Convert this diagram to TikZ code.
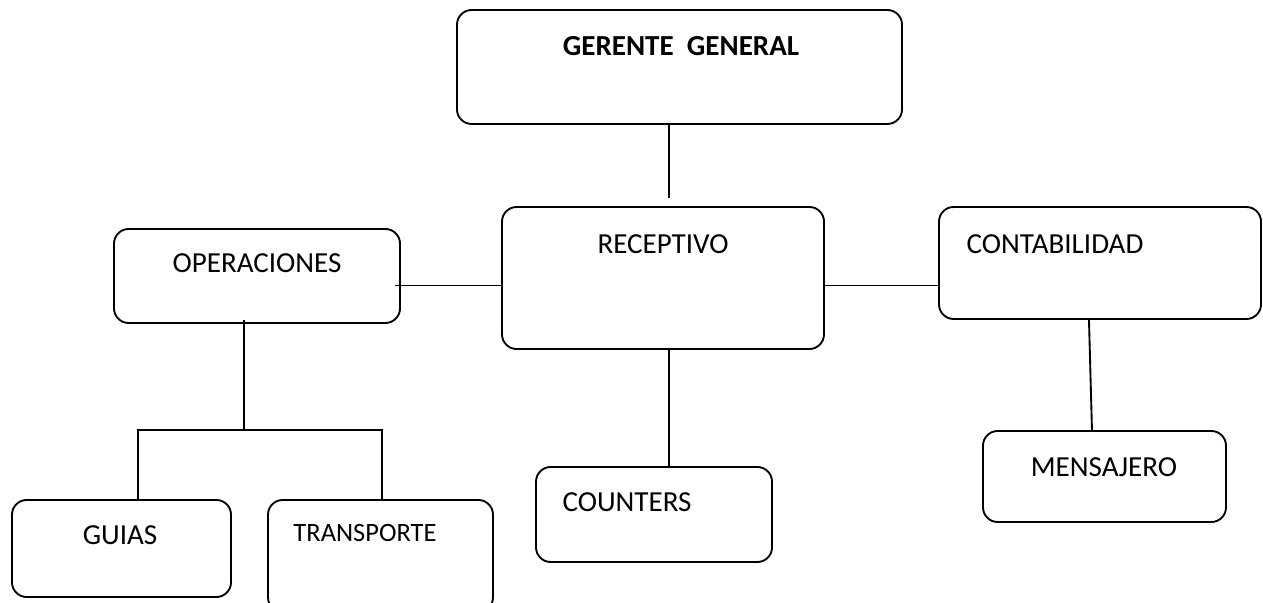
\documentclass[tikz,border=0pt]{standalone}
\usepackage{fontspec}
\setmainfont{Carlito}

\begin{document}
\begin{tikzpicture}[scale=0.15]
\tikzstyle{every node}+=[inner sep=0pt]
\tikzstyle{box}=[draw=black, line width=0.8pt, rounded corners=0.22cm]
\tikzstyle{line}=[black, line width=0.8pt]
\tikzstyle{txt}=[font=\fontsize{12.4}{15}\selectfont]
\tikzstyle{bold}=[font=\fontsize{12.4}{15}\selectfont\bfseries]
\useasboundingbox (0,0) rectangle (126.3,-60.3);
% boxes
\node [box, minimum width=6.675cm, minimum height=1.71cm] (ger) at (67.95,-6.7) {};
\node [box, minimum width=4.83cm, minimum height=2.13cm] (rec) at (66.3,-27.8) {};
\node [box, minimum width=4.29cm, minimum height=1.41cm] (ope) at (25.7,-27.6) {};
\node [box, minimum width=4.83cm, minimum height=1.68cm] (con) at (110.0,-26.3) {};
\node [box, minimum width=3.54cm, minimum height=1.425cm] (cou) at (65.4,-51.45) {};
\node [box, minimum width=3.645cm, minimum height=1.365cm] (men) at (110.45,-47.65) {};
\node [box, minimum width=3.285cm, minimum height=1.455cm] (gui) at (12.15,-54.85) {};
\node [box, minimum width=3.375cm, minimum height=1.68cm] (tra) at (38.05,-55.6) {};
% texts
\node [bold] (gert) at (68.1,-4.6) {GERENTE\ \ GENERAL};
\node [txt] (rect) at (66.3,-24.4) {RECEPTIVO};
\node [txt] (opet) at (25.7,-26.3) {OPERACIONES};
\node [txt] (cont) at (105.5,-24.4) {CONTABILIDAD};
\node [txt] (cout) at (62.7,-50.25) {COUNTERS};
\node [txt] (mest) at (110.4,-46.7) {MENSAJERO};
\node [txt] (guit) at (12.0,-53.5) {GUIAS};
\node [font=\fontsize{11.3}{14}\selectfont] (trat) at (36.5,-53.3) {TRANSPORTE};
% connectors
\coordinate (ge) at (66.9,-19.8);
\draw [line] (ger.south -| ge) -- (ge);
\draw [line] (rec.south -| ge) -- (cou.north -| ge);
\coordinate (ol) at (39.5,-28.55);
\draw [line] (ol) -- (ol -| rec.west);
\draw [line] (rec.east |- ol) -- (con.west |- ol);
\coordinate (od) at (24.4,-32.0);
\coordinate (oj) at (24.4,-43.0);
\draw [line] (od) -- (oj);
\coordinate (bl) at (13.8,-43.0);
\coordinate (br) at (38.2,-43.0);
\draw [line] (gui.north -| bl) -- (bl) -- (br) -- (tra.north -| br);
\coordinate (cm) at (108.9,-31.9);
\coordinate (mc) at (109.2,-43.1);
\draw [line] (con.south -| cm) -- (men.north -| mc);
\end{tikzpicture}
\end{document}
